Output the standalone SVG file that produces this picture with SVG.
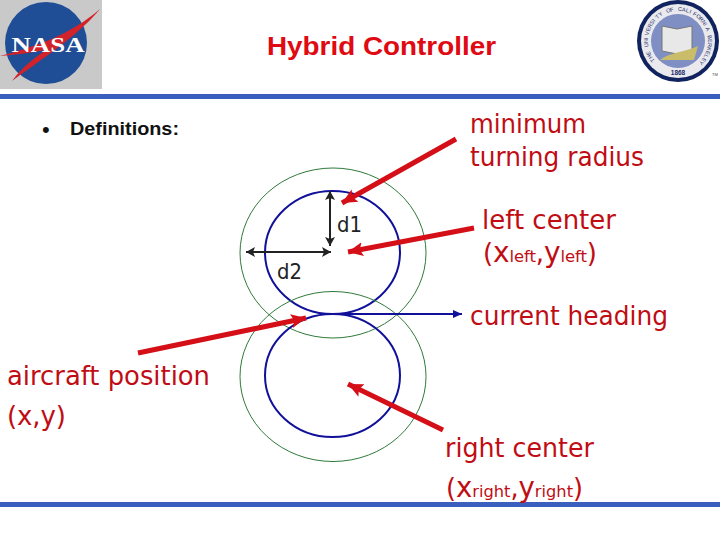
<svg xmlns="http://www.w3.org/2000/svg" width="720" height="540" viewBox="0 0 720 540">
<style>
.lab{font-family:"DejaVu Sans",Verdana,sans-serif;fill:#c00d14;font-size:26px}
.sub{font-size:16.500px}
.big{font-size:28px}
.out{fill:none;stroke:#2f7a3a;stroke-width:1}
.inn{fill:none;stroke:#10109a;stroke-width:2}
.red{fill:none;stroke:#d40f17;stroke-width:5}
.blk{stroke:#222;stroke-width:2;fill:none}
</style>
<defs>
<marker id="r" markerUnits="userSpaceOnUse" markerWidth="16" markerHeight="16" refX="15" refY="8" orient="auto"><path d="M0 1L15 8L0 15L3 8Z" fill="#d40f17"/></marker>
<marker id="b" markerUnits="userSpaceOnUse" markerWidth="10" markerHeight="10" refX="9" refY="5" orient="auto"><path d="M0 1L9 5L0 9Z" fill="#10109a"/></marker>
<marker id="k" markerUnits="userSpaceOnUse" markerWidth="10" markerHeight="12" refX="9" refY="6" orient="auto-start-reverse"><path d="M0 1L9 6L0 11L2 6Z" fill="#222"/></marker>
</defs>
<rect width="720" height="540" fill="#fff"/>
<g id="nasa-logo">
<rect x="0" y="0" width="102" height="89" fill="#c9c9c9"/>
<circle cx="46" cy="43" r="41" fill="#1f4e96"/>
<path d="M0 56C35 47 70 35 100 9C80 33 55 50 12 81C24 65 36 57 46 50C30 53 14 55 0 56Z" fill="#d2222a"/>
<text x="48" y="52" text-anchor="middle" style="font-family:'Liberation Serif',serif;font-weight:bold;font-size:22px;fill:#fff" textLength="73" lengthAdjust="spacingAndGlyphs">NASA</text>
</g>
<g id="seal-logo">
<circle cx="678" cy="41" r="41" fill="#11235f"/>
<circle cx="678" cy="41" r="37" fill="#e9e9ee"/>
<circle cx="678" cy="41" r="27" fill="#7f8fc4"/>
<path d="M662 26L677 29L692 26V51L677 54L662 51Z" fill="#e8e8e8" stroke="#777" stroke-width="1"/>
<path d="M660 60C670 52 686 52 698 46L694 60Z" fill="#c9bd6a"/>
<text style="font-family:'Liberation Sans',sans-serif;font-size:5.500px;fill:#1a2a66" x="655 652.8 650.9 649.5 648.6 648.1 648.1 648.5 649.4 650.8 652.6 654.8 657.4 660.3 663.5 666.9 670.5 674.2 678 681.8 685.5 689.1 692.5 695.7 698.6 701.2 703.4 705.2 706.6 707.5 707.9 707.9 707.4 706.5 705.1 703.2 701" y="60.3 57.3 54 50.4 46.8 43 39.3 35.5 31.8 28.3 25 21.9 19.2 16.8 14.8 13.1 11.9 11.2 11 11.2 11.9 13.1 14.8 16.8 19.2 21.9 25 28.3 31.8 35.5 39.3 43 46.8 50.4 54 57.3 60.3" rotate="-130 -122.8 -115.6 -108.3 -101.1 -93.9 -86.7 -79.5 -72.2 -65 -57.8 -50.6 -43.3 -36.1 -28.9 -21.7 -14.4 -7.2 0 7.2 14.4 21.7 28.9 36.1 43.3 50.6 57.8 65 72.2 79.5 86.7 93.9 101.1 108.3 115.6 122.8 130">THE UNIVERSITY OF CALIFORNIA BERKELEY</text>
<text x="678" y="75" text-anchor="middle" style="font-family:'Liberation Sans',sans-serif;font-size:6.500px;font-weight:bold;fill:#1a2a66">1868</text>
<text x="712" y="76" style="font-family:'Liberation Sans',sans-serif;font-size:4px;fill:#444">TM</text>
</g>
<rect id="rule-top" x="0" y="94" width="720" height="5" fill="#3a5fbe"/>
<rect id="rule-bottom" x="0" y="502" width="720" height="5" fill="#3a5fbe"/>
<text id="title" x="267" y="55" style="font-family:'Liberation Sans',sans-serif;font-weight:bold;font-size:26.500px;fill:#e00a12" textLength="229" lengthAdjust="spacingAndGlyphs">Hybrid Controller</text>
<g id="definitions">
<text x="42" y="137" style="font-family:'Liberation Sans',sans-serif;font-size:22px;fill:#111">•</text>
<text x="70" y="135" style="font-family:'Liberation Sans',sans-serif;font-weight:bold;font-size:18px;fill:#111" textLength="109" lengthAdjust="spacingAndGlyphs">Definitions:</text>
</g>
<g id="top-circles">
<ellipse class="out" cx="333" cy="253" rx="93" ry="85"/>
<ellipse class="inn" cx="332.500" cy="252.500" rx="67.500" ry="61.500"/>
</g>
<g id="bottom-circles">
<ellipse class="out" cx="333" cy="376.500" rx="93" ry="85"/>
<ellipse class="inn" cx="332.500" cy="375.500" rx="67.500" ry="61.500"/>
</g>
<g id="connectors">
<path class="blk" d="M330 191V246" marker-start="url(#k)" marker-end="url(#k)"/>
<path class="blk" d="M246 252H331" marker-start="url(#k)" marker-end="url(#k)"/>
<path fill="none" stroke="#10109a" stroke-width="2" d="M322 314H462" marker-end="url(#b)"/>
<path class="red" d="M456 139L342 203" marker-end="url(#r)"/>
<path class="red" d="M474 228L348 252" marker-end="url(#r)"/>
<path class="red" d="M138 353L306 318" marker-end="url(#r)"/>
<path class="red" d="M443 430L348 384" marker-end="url(#r)"/>
</g>
<text id="d1" x="337" y="232" style="font-family:'DejaVu Sans',sans-serif;font-size:22px;fill:#222" textLength="25" lengthAdjust="spacingAndGlyphs">d1</text>
<text id="d2" x="277" y="279" style="font-family:'DejaVu Sans',sans-serif;font-size:22px;fill:#222" textLength="25" lengthAdjust="spacingAndGlyphs">d2</text>
<g id="label-radius"><text class="lab" x="470" y="133" textLength="116" lengthAdjust="spacingAndGlyphs">minimum</text><text class="lab" x="470" y="166" textLength="174" lengthAdjust="spacingAndGlyphs">turning radius</text></g>
<g id="label-left"><text class="lab" x="482" y="229" textLength="134" lengthAdjust="spacingAndGlyphs">left center</text><text class="lab" x="483" y="262" textLength="114" lengthAdjust="spacing">(<tspan class="big">x</tspan><tspan class="sub">left</tspan>,<tspan class="big">y</tspan><tspan class="sub">left</tspan>)</text></g>
<g id="label-heading"><text class="lab" x="470" y="325" textLength="198" lengthAdjust="spacingAndGlyphs">current heading</text></g>
<g id="label-aircraft"><text class="lab" x="7" y="385" textLength="203" lengthAdjust="spacingAndGlyphs">aircraft position</text><text class="lab" x="7" y="425" textLength="59" lengthAdjust="spacing">(x,y)</text></g>
<g id="label-right"><text class="lab" x="445" y="457" textLength="149" lengthAdjust="spacingAndGlyphs">right center</text><text class="lab" x="446" y="497" textLength="137" lengthAdjust="spacingAndGlyphs">(<tspan class="big">x</tspan><tspan class="sub">right</tspan>,<tspan class="big">y</tspan><tspan class="sub">right</tspan>)</text></g>
</svg>
